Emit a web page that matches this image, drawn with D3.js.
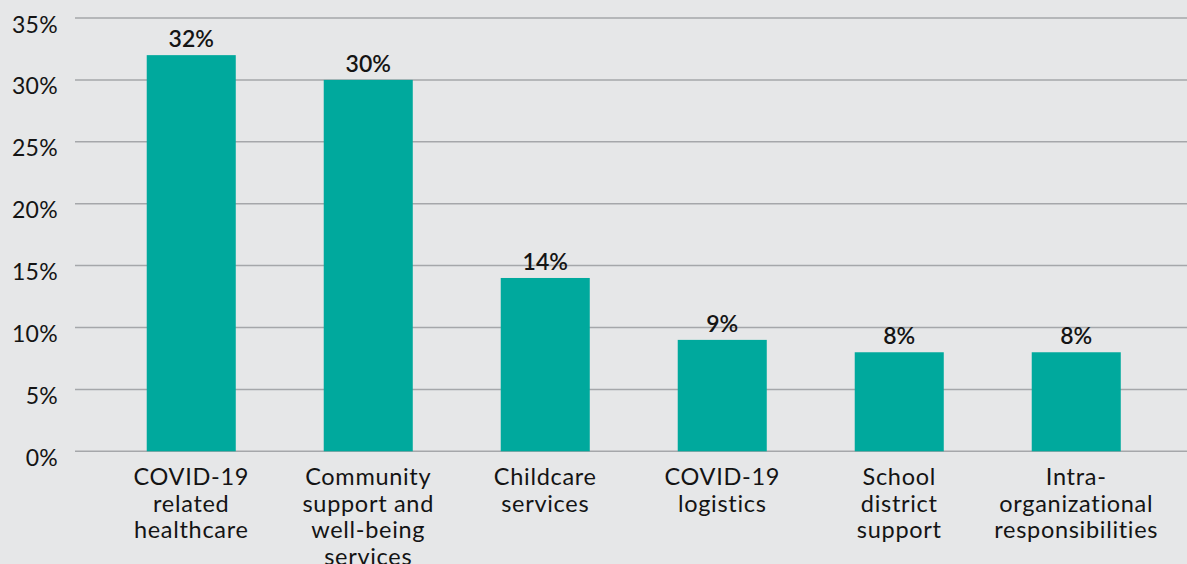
<!DOCTYPE html>
<html>
<head>
<meta charset="utf-8">
<script src="https://cdn.jsdelivr.net/npm/d3@7"></script>
<style>
  html, body { margin: 0; padding: 0; background: #e6e7e8; }
  svg { display: block; }
  text { font-family: Lato, "Noto Sans", sans-serif; fill: #141414; }
</style>
</head>
<body>
<svg id="chart" width="1187" height="564"></svg>
<script>
// Share of responses by category (percent)
const categories = [
  ["COVID-19", "related", "healthcare"],
  ["Community", "support and", "well-being", "services"],
  ["Childcare", "services"],
  ["COVID-19", "logistics"],
  ["School", "district", "support"],
  ["Intra-", "organizational", "responsibilities"]
];
const values = [32, 30, 14, 9, 8, 8];
const yTicks = [0, 5, 10, 15, 20, 25, 30, 35];

const W = 1187, H = 564;
const svg = d3.select("#chart");

svg.append("rect").attr("width", W).attr("height", H).attr("fill", "#e6e7e8");

const x = d3.scaleBand()
  .domain(d3.range(categories.length))
  .range([102.75, 1164.75])
  .paddingInner(0.497)
  .paddingOuter(0.2485);

const y = d3.scaleLinear().domain([0, 35]).range([451.3, 18]);

// Gridlines
svg.append("g")
  .selectAll("line")
  .data(yTicks)
  .join("line")
  .attr("x1", 75).attr("x2", W)
  .attr("y1", d => y(d)).attr("y2", d => y(d))
  .attr("stroke", "#a5a7aa")
  .attr("stroke-width", 1.5);

// Y axis labels
svg.append("g")
  .selectAll("text")
  .data(yTicks)
  .join("text")
  .attr("x", 58)
  .attr("y", d => y(d) + 14.5)
  .attr("text-anchor", "end")
  .attr("font-size", 23)
  .attr("letter-spacing", 0.3)
  .text(d => d + "%");

// Bars
svg.append("g")
  .selectAll("rect")
  .data(values)
  .join("rect")
  .attr("x", (d, i) => x(i))
  .attr("width", x.bandwidth())
  .attr("y", d => y(d))
  .attr("height", d => y(0) - y(d))
  .attr("fill", "#00a99d");

// Value labels
svg.append("g")
  .selectAll("text")
  .data(values)
  .join("text")
  .attr("x", (d, i) => x(i) + x.bandwidth() / 2)
  .attr("y", d => y(d) - 8)
  .attr("text-anchor", "middle")
  .attr("font-size", 23)
  .attr("font-weight", 600)
  .text(d => d + "%");

// Category labels
const cat = svg.append("g")
  .selectAll("text")
  .data(categories)
  .join("text")
  .attr("x", (d, i) => x(i) + x.bandwidth() / 2)
  .attr("y", 485)
  .attr("text-anchor", "middle")
  .attr("font-size", 23.5)
  .attr("letter-spacing", 0.7);

cat.selectAll("tspan")
  .data(d => d)
  .join("tspan")
  .attr("x", function () { return this.parentNode.getAttribute("x"); })
  .attr("dy", (d, i) => i === 0 ? 0 : 26.5)
  .text(d => d);
</script>
</body>
</html>
